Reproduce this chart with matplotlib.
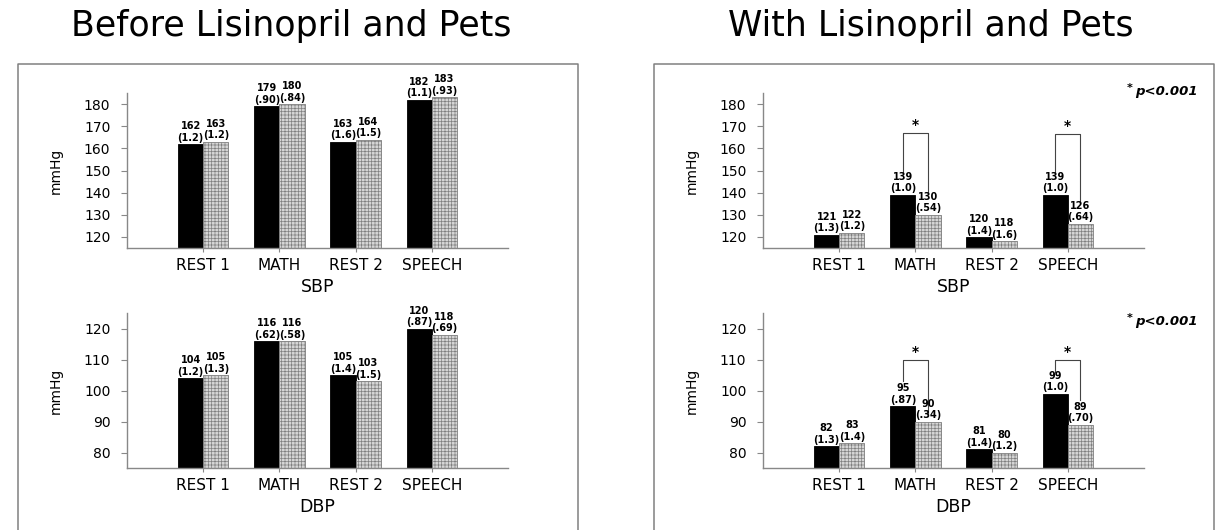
import matplotlib
matplotlib.use('Agg')
from matplotlib import pyplot as plt
from matplotlib.lines import Line2D
import numpy as np

plt.rcParams['font.family'] = ['DejaVu Sans']
plt.rcParams['hatch.linewidth'] = 0.5
plt.rcParams['hatch.color'] = '#9a9a9a'

categories = ['REST 1', 'MATH', 'REST 2', 'SPEECH']

before_sbp_a = [162, 179, 163, 182]
before_sbp_a_se = ['(1.2)', '(.90)', '(1.6)', '(1.1)']
before_sbp_b = [163, 180, 164, 183]
before_sbp_b_se = ['(1.2)', '(.84)', '(1.5)', '(.93)']

before_dbp_a = [104, 116, 105, 120]
before_dbp_a_se = ['(1.2)', '(.62)', '(1.4)', '(.87)']
before_dbp_b = [105, 116, 103, 118]
before_dbp_b_se = ['(1.3)', '(.58)', '(1.5)', '(.69)']

with_sbp_a = [121, 139, 120, 139]
with_sbp_a_se = ['(1.3)', '(1.0)', '(1.4)', '(1.0)']
with_sbp_b = [122, 130, 118, 126]
with_sbp_b_se = ['(1.2)', '(.54)', '(1.6)', '(.64)']

with_dbp_a = [82, 95, 81, 99]
with_dbp_a_se = ['(1.3)', '(.87)', '(1.4)', '(1.0)']
with_dbp_b = [83, 90, 80, 89]
with_dbp_b_se = ['(1.4)', '(.34)', '(1.2)', '(.70)']

sbp_ticks = [120, 130, 140, 150, 160, 170, 180]
dbp_ticks = [80, 90, 100, 110, 120]

# significance brackets: (category, top, left leg bottom, right leg bottom)
sbp_brackets = [(1, 167, 149, 140), (3, 166.5, 149, 135)]
dbp_brackets = [(1, 110, 103, 92.5), (3, 110, 106, 97)]

W, H = 1215, 530
fig = plt.figure(figsize=(W / 100, H / 100), dpi=100)

BW = 0.33
SHIFT = 636  # right panel is the left one moved over


def px_axes(x0, y0, x1, y1):
    return fig.add_axes([x0 / W, 1 - y1 / H, (x1 - x0) / W, (y1 - y0) / H])


def bar_labels(ax, xs, vals, ses):
    for xi, v, s in zip(xs, vals, ses):
        ax.annotate('%d\n%s' % (v, s), (xi, v), xytext=(0, 1), textcoords='offset points',
                    ha='center', va='bottom', fontsize=7, fontweight='bold',
                    linespacing=1.2, annotation_clip=False)


def panel(ax, a, a_se, b, b_se, ticks, ylim, xlabel, brackets=None):
    x = np.arange(len(categories))
    ax.bar(x - BW / 2, a, BW, color='black', edgecolor='black', lw=0.6)
    ax.bar(x + BW / 2, b, BW, color='#d6d6d6', edgecolor='#808080',
           lw=0.6, hatch='+++++')
    bar_labels(ax, x - BW / 2, a, a_se)
    bar_labels(ax, x + BW / 2, b, b_se)
    ax.set_xlim(-1, len(categories))
    ax.set_ylim(*ylim)
    ax.set_yticks(ticks)
    ax.set_xticks(x)
    ax.set_xticklabels(categories, fontsize=11)
    ax.tick_params(axis='y', labelsize=10, length=4, color='#888888', pad=8)
    ax.tick_params(axis='x', length=3, color='#888888', pad=4)
    for s in ['top', 'right']:
        ax.spines[s].set_visible(False)
    for s in ['left', 'bottom']:
        ax.spines[s].set_color('#888888')
        ax.spines[s].set_linewidth(1)
    ax.set_ylabel('mmHg', fontsize=10, labelpad=15)
    ax.set_xlabel(xlabel, fontsize=12.5, labelpad=4)
    if brackets:
        for c, top, lb, rb in brackets:
            xl, xr = c - BW / 2, c + BW / 2
            ax.plot([xl, xl, xr, xr], [lb, top, top, rb], color='#444444', lw=0.8,
                    clip_on=False)
            ax.text(c, top + (ylim[1] - ylim[0]) * 0.005, '*', ha='center', va='bottom',
                    fontsize=10, fontweight='bold')


def note(y):
    fig.text(1127 / W, 1 - (y - 3) / H, '*', ha='left', va='center', fontsize=8,
             fontweight='bold')
    fig.text(1198 / W, 1 - y / H, 'p<0.001', ha='right', va='center', fontsize=9.5,
             fontweight='bold', style='italic')


ax1 = px_axes(127, 93, 508, 248)
panel(ax1, before_sbp_a, before_sbp_a_se, before_sbp_b, before_sbp_b_se,
      sbp_ticks, (115, 185), 'SBP')
ax2 = px_axes(127, 313, 508, 468)
panel(ax2, before_dbp_a, before_dbp_a_se, before_dbp_b, before_dbp_b_se,
      dbp_ticks, (75, 125), 'DBP')
ax3 = px_axes(127 + SHIFT, 93, 508 + SHIFT, 248)
panel(ax3, with_sbp_a, with_sbp_a_se, with_sbp_b, with_sbp_b_se,
      sbp_ticks, (115, 185), 'SBP', sbp_brackets)
ax4 = px_axes(127 + SHIFT, 313, 508 + SHIFT, 468)
panel(ax4, with_dbp_a, with_dbp_a_se, with_dbp_b, with_dbp_b_se,
      dbp_ticks, (75, 125), 'DBP', dbp_brackets)
note(91)
note(321)

# panel frames
for x0, x1 in [(18, 578), (18 + SHIFT, 578 + SHIFT)]:
    xs = [x0 / W, x0 / W, x1 / W, x1 / W]
    ys = [-0.05, 1 - 64 / H, 1 - 64 / H, -0.05]
    fig.add_artist(Line2D(xs, ys, color='#808080', lw=1.1))

fig.text(291 / W, 1 - 26 / H, 'Before Lisinopril and Pets', ha='center', va='center',
         fontsize=25)
fig.text(931 / W, 1 - 26 / H, 'With Lisinopril and Pets', ha='center', va='center',
         fontsize=25)

fig.savefig('out.png', dpi=100)
